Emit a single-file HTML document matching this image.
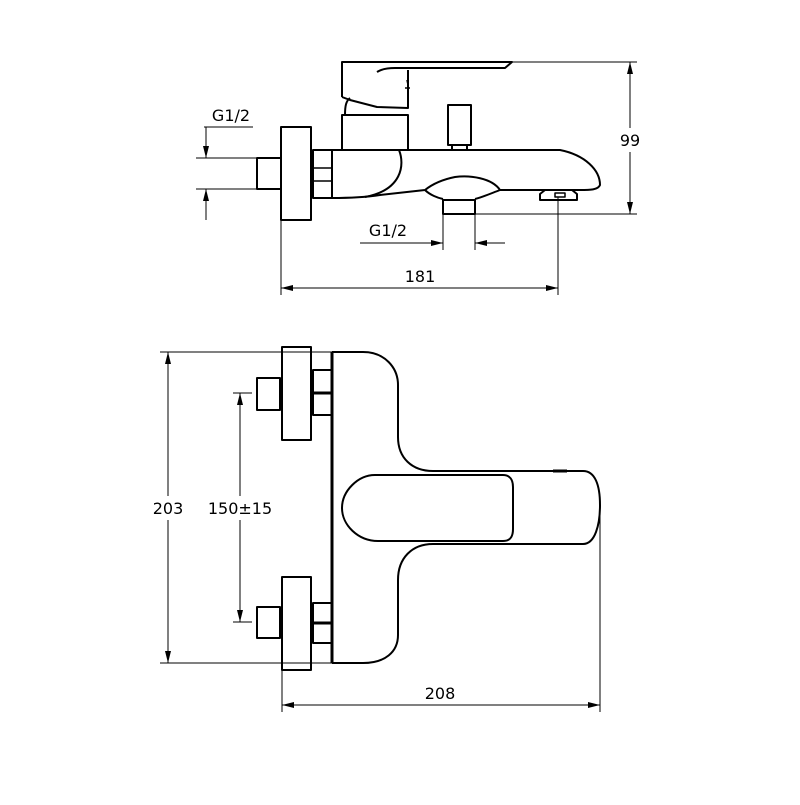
<!DOCTYPE html>
<html><head><meta charset="utf-8"><style>html,body{margin:0;padding:0;background:#fff}</style></head>
<body>
<svg width="800" height="800" viewBox="0 0 800 800" xmlns="http://www.w3.org/2000/svg">
<defs>
<marker id="a" viewBox="0 0 12 6" refX="12" refY="3" markerWidth="12" markerHeight="6" orient="auto-start-reverse" markerUnits="userSpaceOnUse">
<path d="M0,0 L12,3 L0,6 Z" fill="#000"/></marker>
</defs>
<g fill="none" stroke="#000" stroke-width="2" stroke-linejoin="round">
<!-- TOP VIEW -->
<rect x="281" y="127" width="30" height="93"/>
<rect x="257" y="158" width="24" height="31"/>
<rect x="313" y="150" width="19" height="48"/>
<line x1="313" y1="168" x2="332" y2="168" stroke-width="1.5"/>
<line x1="313" y1="181" x2="332" y2="181" stroke-width="1.5"/>
<path d="M332,150 L560,150 C585,155 600,170 600,185 C598,190 590,190 580,190 L500,190 C492,178 470,175 455,177 C440,180 430,186 425,190 L380,195 C360,198 340,198 332,198"/>
<path d="M399,150 C405,165 402,190 365,197"/>
<path d="M425,190 C430,195 438,198 443,199"/>
<path d="M500,190 C492,193 483,197 475,199"/>
<rect x="443" y="200" width="32" height="14"/>
<path d="M540,200 L577,200 L577,194 L572,190 L545,190 L540,194 Z"/>
<rect x="555" y="193" width="10" height="4" stroke-width="1.5"/>
<rect x="342" y="115" width="66" height="35"/>
<path d="M345,115 C345,106 346,101 350,98"/>
<rect x="448" y="105" width="23" height="40"/>
<rect x="452" y="145" width="15" height="5"/>
<path d="M342,97 L342,62 L512,62 L505,68 L395,68 C385,68 380,70 377,72"/>
<path d="M342,97 L350,100 L377,107 L408,108 L408,70"/>
<path d="M408,85 L407,80 M405,88 L410,88" stroke-width="1.5"/>
<!-- BOTTOM VIEW -->
<rect x="282" y="347" width="29" height="93"/>
<rect x="257" y="378" width="23" height="32"/>
<rect x="313" y="370" width="19" height="45"/>
<line x1="313" y1="393" x2="332" y2="393" stroke-width="3"/>
<rect x="282" y="577" width="29" height="93"/>
<rect x="257" y="607" width="23" height="31"/>
<rect x="313" y="603" width="19" height="40"/>
<line x1="313" y1="623" x2="332" y2="623" stroke-width="3"/>
<line x1="332" y1="352" x2="332" y2="663" stroke-width="3"/>
<path d="M332,352 L363,352 C385,352 398,368 398,385 L398,437 C398,458 412,471 433,471 L583,471 C595,471 600,485 600,505 C600,525 595,544 583,544 L433,544 C412,544 398,558 398,580 L398,635 C398,652 385,663 363,663 L332,663"/>
<path d="M375,475 L503,475 C510,475 513,480 513,487 L513,529 C513,537 510,541 503,541 L378,541 C358,541 342,525 342,508 C342,491 358,475 375,475 Z"/>
<line x1="553" y1="471" x2="567" y2="471" stroke-width="3"/>
</g>
<g fill="none" stroke="#000" stroke-width="1">
<!-- 99 -->
<line x1="512" y1="62" x2="637" y2="62"/>
<line x1="475" y1="214" x2="637" y2="214"/>
<line x1="630" y1="62" x2="630" y2="214" marker-start="url(#a)" marker-end="url(#a)"/>
<!-- G1/2 left -->
<line x1="204" y1="127" x2="253" y2="127"/>
<line x1="196" y1="158" x2="257" y2="158"/>
<line x1="196" y1="189" x2="257" y2="189"/>
<line x1="206" y1="127" x2="206" y2="158" marker-end="url(#a)"/>
<line x1="206" y1="220" x2="206" y2="189" marker-end="url(#a)"/>
<!-- G1/2 bottom -->
<line x1="443" y1="214" x2="443" y2="250"/>
<line x1="475" y1="214" x2="475" y2="250"/>
<line x1="360" y1="243" x2="443" y2="243" marker-end="url(#a)"/>
<line x1="505" y1="243" x2="475" y2="243" marker-end="url(#a)"/>
<!-- 181 -->
<line x1="281" y1="220" x2="281" y2="295"/>
<line x1="558" y1="197" x2="558" y2="295"/>
<line x1="281" y1="288" x2="558" y2="288" marker-start="url(#a)" marker-end="url(#a)"/>
<!-- 203 -->
<line x1="160" y1="352" x2="332" y2="352"/>
<line x1="160" y1="663" x2="332" y2="663"/>
<line x1="168" y1="352" x2="168" y2="663" marker-start="url(#a)" marker-end="url(#a)"/>
<!-- 150 -->
<line x1="233" y1="393" x2="252" y2="393"/>
<line x1="233" y1="622" x2="252" y2="622"/>
<line x1="240" y1="393" x2="240" y2="622" marker-start="url(#a)" marker-end="url(#a)"/>
<!-- 208 -->
<line x1="282" y1="670" x2="282" y2="712"/>
<line x1="600" y1="505" x2="600" y2="712"/>
<line x1="282" y1="705" x2="600" y2="705" marker-start="url(#a)" marker-end="url(#a)"/>
</g>
<g font-family="'DejaVu Sans','Liberation Sans',sans-serif" font-size="16" text-anchor="middle" fill="#000">
<rect x="615" y="128" width="30" height="24" fill="#fff"/>
<text x="630" y="146">99</text>
<text x="231" y="121">G1/2</text>
<text x="388" y="236">G1/2</text>
<text x="420" y="282">181</text>
<rect x="150" y="496" width="36" height="24" fill="#fff"/>
<text x="168" y="514">203</text>
<rect x="202" y="496" width="76" height="24" fill="#fff"/>
<text x="240" y="514">150±15</text>
<text x="440" y="699">208</text>
</g>
</svg>
</body></html>
